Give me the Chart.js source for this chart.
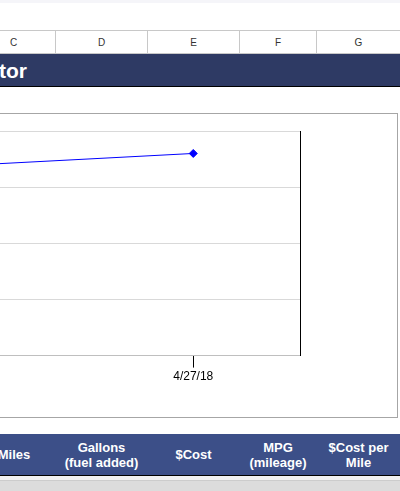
<!DOCTYPE html><html><head><meta charset="utf-8">
<script src="https://cdn.jsdelivr.net/npm/chart.js@4"></script>
<style>
body{margin:0;width:400px;height:491px;overflow:hidden;background:#fff;font-family:"Liberation Sans",Arial,sans-serif;position:relative}
.a{position:absolute}
.col{position:absolute;top:31px;height:23px;line-height:23px;font-size:10px;color:#333;text-align:center}
.th{position:absolute;top:434px;height:41px;color:#fff;font-weight:bold;font-size:13px;text-align:center;display:flex;align-items:center;justify-content:center;line-height:15px}
</style></head><body>
<div class="a" style="left:0;top:0;width:400px;height:3px;background:#f5f5f9"></div>
<div class="a" style="left:0;top:30px;width:400px;height:24px;border-top:1px solid #c8c8c8;border-bottom:1px solid #c8c8c8;box-sizing:border-box"></div>
<div class="a" style="left:55px;top:30px;width:1px;height:24px;background:#c8c8c8"></div>
<div class="a" style="left:147px;top:30px;width:1px;height:24px;background:#c8c8c8"></div>
<div class="a" style="left:239px;top:30px;width:1px;height:24px;background:#c8c8c8"></div>
<div class="a" style="left:316px;top:30px;width:1px;height:24px;background:#c8c8c8"></div>
<div class="col" style="left:0;width:27px">C</div>
<div class="col" style="left:56px;width:91px">D</div>
<div class="col" style="left:148px;width:91px">E</div>
<div class="col" style="left:240px;width:76px">F</div>
<div class="col" style="left:317px;width:83px">G</div>
<div class="a" style="left:0;top:54px;width:400px;height:32px;background:#2e3a64;border-bottom:1px solid #000"></div>
<div class="a" style="left:-1px;top:58px;color:#fff;font-weight:bold;font-size:21px;line-height:26px">tor</div>
<div class="a" style="left:-5px;top:113px;width:403px;height:305px;border:1px solid #a6a6a6;box-sizing:border-box"></div>
<canvas id="c" class="a" style="left:-132px;top:121px"></canvas>
<div class="a" style="left:0;top:434px;width:400px;height:41px;background:#3c4f88;border-bottom:1px solid #000"></div>
<div class="th" style="left:-20px;width:68px">Miles</div>
<div class="th" style="left:56px;width:91px">Gallons<br>(fuel added)</div>
<div class="th" style="left:148px;width:91px">$Cost</div>
<div class="th" style="left:240px;width:76px">MPG<br>(mileage)</div>
<div class="th" style="left:317px;width:83px">$Cost per<br>Mile</div>
<div class="a" style="left:0;top:476px;width:400px;height:4px;background:#f2f2f2"></div>
<div class="a" style="left:0;top:480px;width:400px;height:11px;background:#dcdcdc;border-top:1px solid #ccc"></div>
<script>
const dates=['4/13/18','4/27/18'];
const mpg=[34.0,36.0];
const yTicks=[0,10,20,30,40];
const cv=document.getElementById('c');
cv.width=437;cv.height=265;cv.style.width='437px';cv.style.height='265px';
new Chart(cv,{type:'line',data:{labels:dates,datasets:[{data:mpg,borderColor:'#0000ff',backgroundColor:'#0000ff',borderWidth:1,pointStyle:'rectRot',pointRadius:4,pointHoverRadius:4}]},
options:{responsive:false,animation:false,events:[],layout:{padding:{top:10,left:0,right:0,bottom:0}},
plugins:{legend:{display:false},tooltip:{enabled:false}},
scales:{x:{offset:true,grid:{display:true,drawOnChartArea:false,color:'#000',tickLength:12,offset:false},border:{color:'#bfbfbf'},ticks:{color:'#000',font:{family:'Liberation Sans',size:12},padding:2,maxRotation:0}},
y:{position:'right',min:0,max:40,afterBuildTicks:s=>{s.ticks=yTicks.map(v=>({value:v}))},ticks:{display:false},grid:{color:'#d9d9d9',drawTicks:false},border:{color:'#000',width:1}}}}});
</script></body></html>
